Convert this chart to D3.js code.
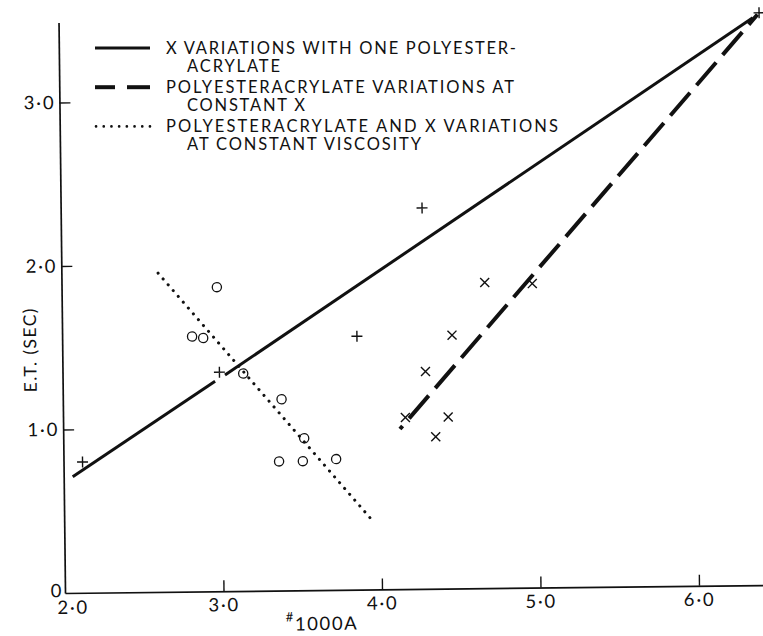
<!DOCTYPE html>
<html>
<head>
<meta charset="utf-8">
<script src="https://cdn.jsdelivr.net/npm/d3@7"></script>
<style>
  html, body { margin: 0; padding: 0; background: #fff; }
  svg { display: block; }
  text { font-family: Lato, "DejaVu Sans", sans-serif; fill: #111; }
</style>
</head>
<body>
<svg id="chart" width="763" height="636"></svg>
<script>
// --- data -------------------------------------------------------------
// "+" points: X variations with one polyesteracrylate
const plusX = [2.12, 2.99, 3.86, 4.28, 6.42];
const plusY = [0.80, 1.34, 1.55, 2.33, 3.50];

// "x" points: polyesteracrylate variations at constant X
const crossX = [4.67, 4.97, 4.46, 4.29, 4.16, 4.43, 4.35];
const crossY = [1.87, 1.86, 1.55, 1.33, 1.05, 1.05, 0.93];

// "o" points: polyesteracrylate and X variations at constant viscosity
const circX = [2.98, 2.82, 2.89, 3.14, 3.38, 3.52, 3.36, 3.51, 3.72];
const circY = [1.86, 1.56, 1.55, 1.33, 1.17, 0.93, 0.79, 0.79, 0.80];

// fitted lines (solid line drawn in two pieces, broken at the marker)
const solidSegments = [
  [[2.057, 0.71], [2.962, 1.285]],
  [[3.025, 1.322], [6.38, 3.47]]
];
const dashedLine = [[4.125, 0.98], [6.41, 3.49]];
const dottedLine = [[2.61, 1.95], [3.955, 0.41]];

// axes
const xTicks = [3, 4, 5, 6];
const yTicks = [1, 2, 3];
const fmt = d => d.toFixed(1).replace(".", "\u00B7");

const legendItems = [
  { style: "solid",  lines: ["X VARIATIONS WITH ONE POLYESTER-", "ACRYLATE"] },
  { style: "dashed", lines: ["POLYESTERACRYLATE VARIATIONS AT", "CONSTANT X"] },
  { style: "dotted", lines: ["POLYESTERACRYLATE AND X VARIATIONS", "AT CONSTANT VISCOSITY"] }
];

// --- layout -----------------------------------------------------------
const svg = d3.select("#chart");
const origin = [65, 593];
const tilt = -0.65;
const tickFont = 18.5;
const tickSpacing = 1.8;

const x = d3.scaleLinear().domain([2, 6.41]).range([0, 699]);
const y = d3.scaleLinear().domain([0, 3.49]).range([0, -570.6]);

const g = svg.append("g")
  .attr("transform", `translate(${origin[0]},${origin[1]}) rotate(${tilt})`);

function styleAxis(sel) {
  sel.attr("font-family", null).attr("font-size", null);
  sel.select(".domain").attr("stroke", "#111").attr("stroke-width", 1.7);
  sel.selectAll(".tick line").attr("stroke", "#111").attr("stroke-width", 1.4);
  sel.selectAll(".tick text").attr("font-size", tickFont).attr("fill", "#111")
    .attr("letter-spacing", tickSpacing);
}

// x axis
const xAxis = g.append("g")
  .call(d3.axisBottom(x).tickValues(xTicks).tickSizeInner(-11).tickSizeOuter(0)
        .tickPadding(7).tickFormat(fmt));
styleAxis(xAxis);

// y axis
const yAxis = g.append("g")
  .call(d3.axisLeft(y).tickValues(yTicks).tickSizeInner(-11).tickSizeOuter(0)
        .tickPadding(4).tickFormat(fmt));
styleAxis(yAxis);
yAxis.selectAll(".tick text").attr("x", -4).attr("text-anchor", "end");

// corner labels
g.append("text").attr("x", x(2) - 9).attr("y", y(0) + 4)
  .attr("text-anchor", "middle").attr("font-size", tickFont).text("0");
g.append("text").attr("x", x(2) + 8).attr("y", y(0) + 21)
  .attr("text-anchor", "middle").attr("font-size", tickFont)
  .attr("letter-spacing", tickSpacing).text(fmt(2));

// axis titles
const xt = g.append("text").attr("x", x(3.39)).attr("y", y(0) + 40)
  .attr("font-size", tickFont).attr("letter-spacing", 1.6);
xt.append("tspan").attr("font-size", 13).attr("dy", -9).text("#");
xt.append("tspan").attr("dy", 9).text("1000A");

g.append("text")
  .attr("transform", `translate(-26,${y(1.49)}) rotate(-90)`)
  .attr("text-anchor", "middle").attr("font-size", 17.5)
  .attr("letter-spacing", 1.4).text("E.T. (SEC)");

// lines
const line = d3.line().x(d => x(d[0])).y(d => y(d[1]));

g.selectAll(".solid").data(solidSegments).join("path")
  .attr("class", "solid").attr("d", line)
  .attr("fill", "none").attr("stroke", "#111").attr("stroke-width", 3);

g.append("path").attr("d", line(dashedLine))
  .attr("fill", "none").attr("stroke", "#111").attr("stroke-width", 4)
  .attr("stroke-dasharray", "30,10").attr("stroke-dashoffset", 26);

g.append("path").attr("d", line(dottedLine))
  .attr("fill", "none").attr("stroke", "#111").attr("stroke-width", 3)
  .attr("stroke-linecap", "round").attr("stroke-dasharray", "0.1,7.6");

// markers
const plus = plusX.map((v, i) => [v, plusY[i]]);
g.selectAll(".plus").data(plus).join("path")
  .attr("class", "plus")
  .attr("transform", d => `translate(${x(d[0])},${y(d[1])})`)
  .attr("d", "M-5.5,0H5.5M0,-5.5V5.5")
  .attr("stroke", "#111").attr("stroke-width", 1.4).attr("fill", "none");

const cross = crossX.map((v, i) => [v, crossY[i]]);
g.selectAll(".cross").data(cross).join("path")
  .attr("class", "cross")
  .attr("transform", d => `translate(${x(d[0])},${y(d[1])})`)
  .attr("d", "M-4.5,-4.5L4.5,4.5M-4.5,4.5L4.5,-4.5")
  .attr("stroke", "#111").attr("stroke-width", 1.4).attr("fill", "none");

const circ = circX.map((v, i) => [v, circY[i]]);
g.selectAll(".circ").data(circ).join("circle")
  .attr("class", "circ")
  .attr("cx", d => x(d[0])).attr("cy", d => y(d[1])).attr("r", 4.6)
  .attr("stroke", "#111").attr("stroke-width", 1.3).attr("fill", "none");

// legend
const legend = svg.append("g").attr("transform", "translate(95,48)");
const rowH = 39.2;
const widths = [[350, 93], [348, 118], [392, 234]];
legendItems.forEach((item, i) => {
  const ly = i * rowH;
  const s = legend.append("g").attr("transform", `translate(0,${ly})`);
  if (item.style === "solid") {
    s.append("line").attr("x1", 0).attr("x2", 55).attr("stroke", "#111").attr("stroke-width", 3);
  } else if (item.style === "dashed") {
    s.append("line").attr("x1", 0).attr("x2", 20).attr("stroke", "#111").attr("stroke-width", 4);
    s.append("line").attr("x1", 32).attr("x2", 55).attr("stroke", "#111").attr("stroke-width", 4);
  } else {
    s.append("line").attr("x1", 1).attr("x2", 55).attr("stroke", "#111").attr("stroke-width", 2.6)
      .attr("stroke-linecap", "round").attr("stroke-dasharray", "0.1,7.6");
  }
  item.lines.forEach((t, j) => {
    s.append("text")
      .attr("x", j === 0 ? 71 : 92)
      .attr("y", 5.5 + j * 18.6)
      .attr("font-size", 16.5)
      .attr("textLength", widths[i][j])
      .attr("lengthAdjust", "spacing")
      .text(t);
  });
});
</script>
</body>
</html>
